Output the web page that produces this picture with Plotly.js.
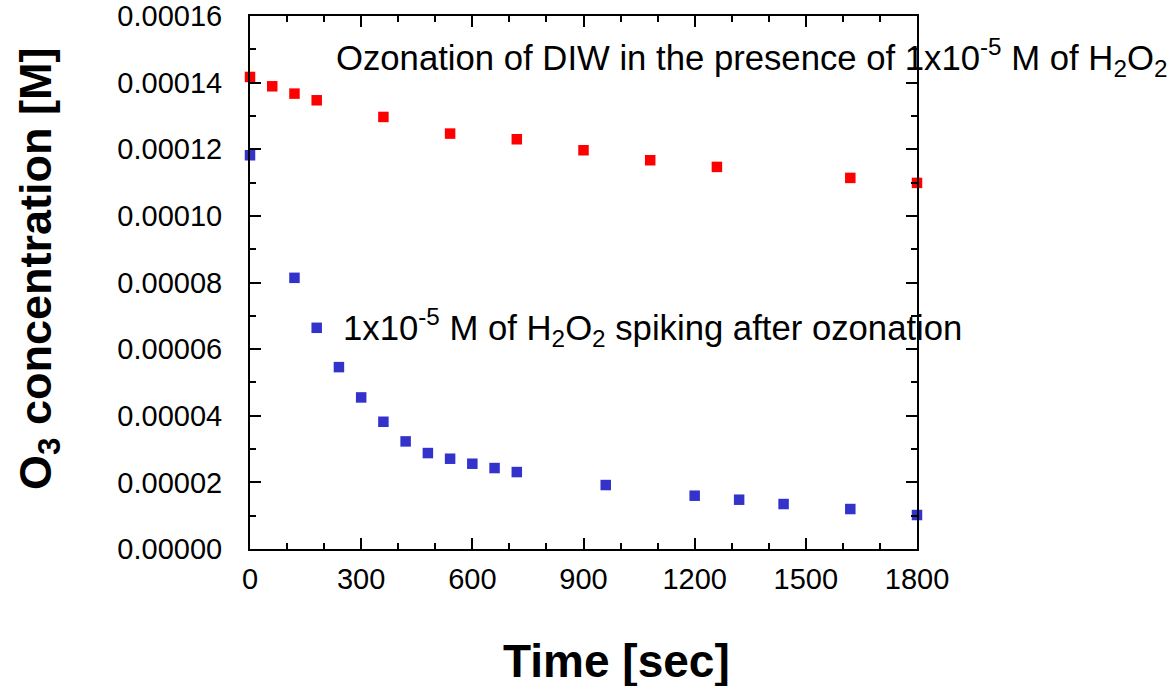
<!DOCTYPE html>
<html>
<head>
<meta charset="utf-8">
<script src="https://cdn.plot.ly/plotly-3.0.1.min.js"></script>
<style>html,body{margin:0;padding:0;background:#fff;}#chart{width:1171px;height:686px;}</style>
</head>
<body>
<div id="chart"></div>
<script>
// Ozonation of DIW in presence of 1e-5 M H2O2 (red)
const timeRed = [0, 60, 120, 180, 360, 540, 720, 900, 1080, 1260, 1620, 1800];
const concRed = [1.417e-4, 1.389e-4, 1.367e-4, 1.347e-4, 1.297e-4, 1.247e-4, 1.230e-4, 1.197e-4, 1.167e-4, 1.147e-4, 1.114e-4, 1.099e-4];
// 1e-5 M H2O2 spiking after ozonation (blue)
const timeBlue = [0, 120, 180, 240, 300, 360, 420, 480, 540, 600, 660, 720, 960, 1200, 1320, 1440, 1620, 1800];
const concBlue = [1.182e-4, 8.14e-5, 6.64e-5, 5.46e-5, 4.55e-5, 3.82e-5, 3.23e-5, 2.88e-5, 2.71e-5, 2.56e-5, 2.43e-5, 2.31e-5, 1.92e-5, 1.60e-5, 1.48e-5, 1.35e-5, 1.20e-5, 1.02e-5];
const xTicks = [0, 300, 600, 900, 1200, 1500, 1800];
const labelRed = 'Ozonation of DIW in the presence of 1x10<sup>-5</sup> M of H<sub>2</sub>O<sub>2</sub>';
const labelBlue = '1x10<sup>-5</sup> M of H<sub>2</sub>O<sub>2</sub> spiking after ozonation';
const xTitle = 'Time [sec]';
const yTitle = 'O<sub>3</sub> concentration [M]';

const font = 'Arial, "Liberation Sans", Helvetica, sans-serif';
const traces = [
  {x: timeRed, y: concRed, type: 'scatter', mode: 'markers', cliponaxis: false,
   marker: {symbol: 'square', size: 10.5, color: '#ff0000'}, name: 'red'},
  {x: timeBlue, y: concBlue, type: 'scatter', mode: 'markers', cliponaxis: false,
   marker: {symbol: 'square', size: 10.5, color: '#3333cc'}, name: 'blue'}
];
const axisCommon = {
  showgrid: false, zeroline: false, showline: true, linecolor: '#000', linewidth: 2,
  ticks: 'inside', ticklen: 11, tickwidth: 2, tickcolor: '#000', mirror: 'allticks',
  tickfont: {family: font, size: 29, color: '#000'}
};
const layout = {
  width: 1171, height: 686,
  margin: {l: 250, r: 254, t: 16, b: 137},
  paper_bgcolor: '#fff', plot_bgcolor: '#fff',
  showlegend: false,
  xaxis: Object.assign({}, axisCommon, {
    range: [0, 1800], tickvals: xTicks, ticktext: xTicks.map(String), ticklabelstandoff: 3,
    minor: {dtick: 100, ticks: 'inside', ticklen: 6, tickwidth: 2, tickcolor: '#000', showgrid: false}
  }),
  yaxis: Object.assign({}, axisCommon, {
    range: [0, 0.00016], dtick: 0.00002, tickformat: '.5f', ticklabelstandoff: 20,
    minor: {dtick: 0.00001, ticks: 'inside', ticklen: 6, tickwidth: 2, tickcolor: '#000', showgrid: false}
  }),
  annotations: [
    {xref: 'paper', yref: 'paper', x: 0.126, y: 0.9226, xanchor: 'left', yanchor: 'middle',
     text: labelRed, showarrow: false, font: {family: font, size: 34.7, color: '#000'}},
    {xref: 'paper', yref: 'paper', x: 0.137, y: 0.4147, xanchor: 'left', yanchor: 'middle',
     text: labelBlue, showarrow: false, font: {family: font, size: 34.7, color: '#000'}},
    {xref: 'paper', yref: 'paper', x: (616-250)/667, y: (549.3-661)/533.6, xanchor: 'center', yanchor: 'middle',
     text: '<b>' + xTitle + '</b>', showarrow: false, font: {family: font, size: 46, color: '#000'}},
    {xref: 'paper', yref: 'paper', x: (38-250)/667, y: (549.3-269)/533.6, xanchor: 'center', yanchor: 'middle',
     textangle: -90, text: '<b>' + yTitle + '</b>', showarrow: false, font: {family: font, size: 45, color: '#000'}}
  ]
};
Plotly.newPlot('chart', traces, layout, {displayModeBar: false, staticPlot: true});
</script>
</body>
</html>
